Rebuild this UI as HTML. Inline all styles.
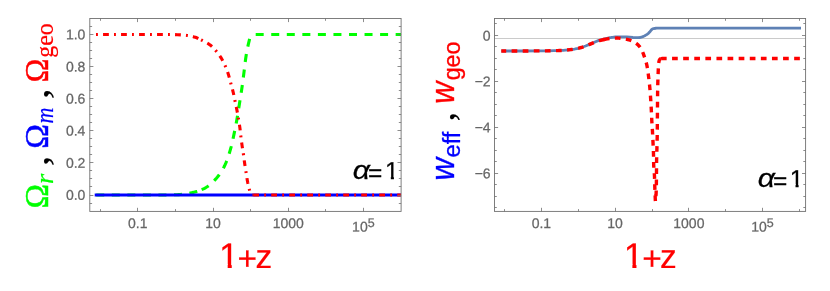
<!DOCTYPE html>
<html><head><meta charset="utf-8"><title>plots</title>
<style>html,body{margin:0;padding:0;background:#fff;}svg{display:block;}</style></head>
<body><div id="wrap" style="width:830px;height:291px;will-change:transform"><svg width="830" height="291" viewBox="0 0 830 291">
<rect width="830" height="291" fill="#ffffff"/>
<clipPath id="cl"><rect x="89.8" y="18.5" width="311.3" height="192.9"/></clipPath>
<g clip-path="url(#cl)" fill="none">
<path d="M96,195L165.66,195L170.17,194.94L175.73,194.77L177.05,194.70L178.64,194.58L180.22,194.44L182.07,194.25L186.01,193.77L187.32,193.57L188.89,193.31L190.20,193.06L191.76,192.73L193.30,192.37L194.58,192.05L195.86,191.69L197.15,191.30L198.43,190.88L199.70,190.42" stroke="#00ff00" stroke-width="3.1" stroke-dasharray="8 7.55" stroke-dashoffset="-0.25"/>
<path d="M199.70,190.42L200.95,189.93L202.18,189.42L203.37,188.87L204.53,188.30L205.43,187.82L206.31,187.30L207.18,186.74L208.27,185.99L209.33,185.18L210.37,184.32L211.40,183.43L212.40,182.50L213.37,181.55L214.50,180.38L215.40,179.40L216.44,178.22L217.44,177.03L218.25,176.01L219.04,174.95L219.97,173.65L220.72,172.54L221.60,171.18L222.43,169.80L223.10,168.63L223.87,167.22L224.47,166.04L225.03,164.86L225.68,163.43L226.28,161.98L226.87,160.51L227.42,159.01L227.95,157.51L228.46,155.99L229.03,154.21L230.16,150.38L231.07,147.07L231.95,143.47L233.07,138.55L234.73,130.78L235.82,125.32L236.84,119.86L237.33,116.99L237.89,113.59L239.37,104.17L240.93,94.49L241.58,90.30L242.40,84.53L243.36,77.18L244.13,71.13L245.12,62.71L245.57,59.30L245.96,56.68L246.43,53.81L246.96,50.94L247.52,48.08L248.30,44.45L249.39,39.78L249.66,38.74L249.89,37.98L250.14,37.24L250.33,36.76L250.66,36.01L250.94,35.49L251.10,35.26L251.26,35.06L251.44,34.90L251.63,34.79L251.85,34.71L252.37,34.57L252.66,34.52L253.19,34.50" stroke="#00ff00" stroke-width="3.1" stroke-dasharray="8 7.55" stroke-dashoffset="13.49"/>
<path d="M253.19,34.50L401,34.50" stroke="#00ff00" stroke-width="3.1" stroke-dasharray="8 7.55" stroke-dashoffset="-2.5"/>
<path d="M94.7,195H401.3" stroke="#0000ff" stroke-width="3.2"/>
<path d="M96,34.50L170.18,34.50L173.36,34.54L177.34,34.68L180.78,34.84L182.10,34.93L183.42,35.05L185.01,35.22L186.85,35.44L188.42,35.66L189.72,35.89L191.02,36.16L192.58,36.53L193.86,36.88L195.38,37.33L196.12,37.57L197.11,37.95L198.08,38.36L199.05,38.81" stroke="#ff0000" stroke-width="3.1" stroke-dasharray="1.9 5.15 5.8 5.15"/>
<path d="M199.05,38.81L203.80,41.21L205.70,42.21L206.64,42.73L207.55,43.27L208.45,43.82L209.32,44.41L210.16,45.02L210.77,45.50L211.57,46.19L212.35,46.91L213.11,47.66L214.03,48.63L214.93,49.63L215.80,50.63L216.82,51.84L217.64,52.88L218.60,54.15L219.38,55.24L220.27,56.56L220.99,57.68L221.66,58.81L222.44,60.19L223.18,61.59L223.89,63.02L224.57,64.47L225.21,65.93L225.83,67.39L226.51,69.11L227.17,70.85L227.78,72.60L228.61,75.12L229.34,77.66L230.95,83.82L232.55,89.70L233.20,92.27L233.89,95.37L235.05,101.08L236.41,107.56L236.93,110.16L237.61,113.81L238.21,117.20L238.91,121.38L239.34,124L239.69,126.36L240.10,129.51L240.87,136.62L241.40,140.83L242.22,146.60L243.18,152.61L243.50,154.71L244.47,162.07L244.81,164.43L245.25,167.31L246.17,173.06L247.02,178.56L247.38,180.65L247.78,182.73L248.34,185.32L248.95,187.90L250.02,192.05L250.17,192.57L250.35,193.06L250.55,193.51L250.83,193.96L251,194.18L251.20,194.40L251.41,194.58L251.62,194.72L251.84,194.81L252.35,194.93L252.62,194.98" stroke="#ff0000" stroke-width="3.1" stroke-dasharray="1.9 5.15 5.8 5.15" stroke-dashoffset="-2.25"/>
<path d="M252.62,194.98L253.16,195L401,195" stroke="#ff0000" stroke-width="3.1" stroke-dasharray="1.9 5.15 5.8 5.15" stroke-dashoffset="6.45"/>
</g>
<rect x="89.8" y="18.5" width="311.30" height="192.90" fill="none" stroke="#707070" stroke-width="0.9"/>
<path d="M100.50,211.4v-2.3M100.50,18.5v2.3M137.50,211.4v-3.6M137.50,18.5v3.6M175.50,211.4v-2.3M175.50,18.5v2.3M213.50,211.4v-3.6M213.50,18.5v3.6M250.50,211.4v-2.3M250.50,18.5v2.3M288.50,211.4v-3.6M288.50,18.5v3.6M325.50,211.4v-2.3M325.50,18.5v2.3M363.50,211.4v-3.6M363.50,18.5v3.6" stroke="#707070" stroke-width="0.8" fill="none"/>
<path d="M89.8,195.50h3.6M401.1,195.50h-3.6M89.8,162.50h3.6M401.1,162.50h-3.6M89.8,130.50h3.6M401.1,130.50h-3.6M89.8,98.50h3.6M401.1,98.50h-3.6M89.8,66.50h3.6M401.1,66.50h-3.6M89.8,34.50h3.6M401.1,34.50h-3.6M89.8,203.50h2.3M401.1,203.50h-2.3M89.8,186.50h2.3M401.1,186.50h-2.3M89.8,178.50h2.3M401.1,178.50h-2.3M89.8,170.50h2.3M401.1,170.50h-2.3M89.8,154.50h2.3M401.1,154.50h-2.3M89.8,146.50h2.3M401.1,146.50h-2.3M89.8,138.50h2.3M401.1,138.50h-2.3M89.8,122.50h2.3M401.1,122.50h-2.3M89.8,114.50h2.3M401.1,114.50h-2.3M89.8,106.50h2.3M401.1,106.50h-2.3M89.8,90.50h2.3M401.1,90.50h-2.3M89.8,82.50h2.3M401.1,82.50h-2.3M89.8,74.50h2.3M401.1,74.50h-2.3M89.8,58.50h2.3M401.1,58.50h-2.3M89.8,50.50h2.3M401.1,50.50h-2.3M89.8,42.50h2.3M401.1,42.50h-2.3M89.8,26.50h2.3M401.1,26.50h-2.3" stroke="#707070" stroke-width="0.8" fill="none"/>
<g font-family="Liberation Sans, sans-serif" font-size="14" fill="#666666" stroke="#666666" stroke-width="0.25">
<text x="85.40" y="199.80" text-anchor="end" transform="rotate(0.03 85.40 199.80)">0.0</text>
<text x="85.40" y="167.70" text-anchor="end" transform="rotate(0.03 85.40 167.70)">0.2</text>
<text x="85.40" y="135.60" text-anchor="end" transform="rotate(0.03 85.40 135.60)">0.4</text>
<text x="85.40" y="103.50" text-anchor="end" transform="rotate(0.03 85.40 103.50)">0.6</text>
<text x="85.40" y="71.40" text-anchor="end" transform="rotate(0.03 85.40 71.40)">0.8</text>
<text x="85.40" y="39.30" text-anchor="end" transform="rotate(0.03 85.40 39.30)">1.0</text>
<text x="137.80" y="228.10" text-anchor="middle" transform="rotate(0.03 137.80 228.10)">0.1</text>
<text x="213.06" y="228.10" text-anchor="middle" transform="rotate(0.03 213.06 228.10)">10</text>
<text x="288.32" y="228.10" text-anchor="middle" transform="rotate(0.03 288.32 228.10)">1000</text>
<text x="363.38" y="231.60" text-anchor="middle" transform="rotate(0.03 363.38 231.60)">10<tspan dy="-4.6" font-size="12.5">5</tspan></text>
</g>
<g font-family="Liberation Sans, sans-serif" fill="#ff0000" stroke="#ff0000" stroke-width="0.2">
<clipPath id="c1_1"><path d="M217.10,232.40H231.76V269.90H227.68V264.15H217.10Z"/></clipPath>
<g clip-path="url(#c1_1)"><text x="219.10" y="267.90" font-size="35.5" transform="rotate(0.03 219.10 267.90)">1</text></g>
<text x="237.5" y="269.8" font-size="33.5" transform="rotate(0.03 237.5 269.8)">+</text><text x="255.4" y="267.9" font-size="33.5" transform="rotate(0.03 255.4 267.9)">z</text></g>
<g font-family="Liberation Sans, sans-serif" fill="#000" stroke="#000" stroke-width="0.25"><text transform="translate(352.7,178.9) scale(1.16,1)" font-size="26" font-style="italic">α</text><text x="368.0" y="180.8" font-size="24.5">=</text>
<clipPath id="c1_2"><path d="M383.00,154.40H393.93V180.90H390.81V175.97H383.00Z"/></clipPath>
<g clip-path="url(#c1_2)"><text x="385.00" y="178.90" font-size="24.5" transform="rotate(0.03 385.00 178.90)">1</text></g>
</g>
<g transform="translate(48.1,206.8) rotate(-90)">
<text transform="translate(0.00,0) scale(0.9702,1)" x="-1.760" y="0" font-family="Liberation Serif, serif" font-size="34" fill="#00ff00" stroke="#00ff00" stroke-width="0.45">Ω</text>
<text transform="translate(23.80,5.1) scale(1.0552,1)" x="-1.005" y="0" font-family="Liberation Serif, serif" font-size="24.8" fill="#00ff00" stroke="#00ff00" stroke-width="0.2" font-style="italic">r</text>
<text transform="translate(42.30,0) scale(1.1102,1)" x="-1.428" y="0" font-family="Liberation Serif, serif" font-size="37.5" fill="#000" stroke="#000" stroke-width="0.15">,</text>
<text transform="translate(59.70,0) scale(0.9748,1)" x="-1.760" y="0" font-family="Liberation Serif, serif" font-size="34" fill="#0000ff" stroke="#0000ff" stroke-width="0.45">Ω</text>
<text transform="translate(84.20,5.1) scale(0.8890,1)" x="-0.896" y="0" font-family="Liberation Serif, serif" font-size="24.8" fill="#0000ff" stroke="#0000ff" stroke-width="0.2" font-style="italic">m</text>
<text transform="translate(109.40,0) scale(1.1281,1)" x="-1.428" y="0" font-family="Liberation Serif, serif" font-size="37.5" fill="#000" stroke="#000" stroke-width="0.15">,</text>
<text transform="translate(126.00,0) scale(0.9518,1)" x="-1.760" y="0" font-family="Liberation Serif, serif" font-size="34" fill="#ff0000" stroke="#ff0000" stroke-width="0.45">Ω</text>
<text transform="translate(150.00,5.1) scale(0.9646,1)" x="-1.066" y="0" font-family="Liberation Serif, serif" font-size="24.8" fill="#ff0000" stroke="#ff0000" stroke-width="0.2">geo</text>
</g>
<clipPath id="cr"><rect x="494.5" y="18.5" width="311.1" height="192.9"/></clipPath>
<g clip-path="url(#cr)" fill="none">
<path d="M494.5,38.5H805.9" stroke="#c4c4c4" stroke-width="0.9"/>
<path d="M501.30,51L519.63,50.98L540.26,50.90L547.90,50.82L554.01,50.72L559.35,50.55L560.87,50.47L563.16,50.32L565.45,50.13L569.25,49.77L571.53,49.51L573.04,49.30L574.55,49.06L575.30,48.92L576.80,48.61L578.29,48.27L580.51,47.70L581.97,47.26L583.42,46.79L584.14,46.54L585.57,45.99L591.22,43.65L593.33,42.76L596.11,41.48L596.81,41.18L597.52,40.90L598.96,40.42L601.17,39.79L603.39,39.23L604.88,38.88L607.87,38.22L610.10,37.69L610.85,37.53L611.60,37.39L612.35,37.29L613.87,37.14L615.40,37.02L616.16,36.98L619.22,36.92L623.80,36.90L625.33,36.94L626.85,37.02L629.90,37.22L632.95,37.49L636,37.63L637.53,37.64L638.30,37.62L639.82,37.52L640.56,37.41L641.29,37.19L643.44,36.34L644.14,36.03L644.83,35.69L645.49,35.32L646.14,34.92L646.78,34.49L647.40,34.04L648,33.57L648.59,33.08L649.14,32.56L649.65,31.99L650.60,30.77L651.10,30.18L651.63,29.66L652.23,29.16L652.87,28.72L653.58,28.52L655.87,28.26L656.63,28.21L657.39,28.20L801,28.20" stroke="#5e81b5" stroke-width="2.8"/>
<path d="M501.30,51L519.51,50.98L539.91,50.90L545.74,50.85L551.93,50.76L557.39,50.62L559.57,50.54L561.39,50.44L563.21,50.32L565.02,50.17L570.10,49.67L571.55,49.50L572.99,49.31L574.43,49.08L575.50,48.88L576.93,48.58L578.71,48.17L579.76,47.90L581.17,47.51L583.25,46.85L584.96,46.23L589.01,44.57L595.74,41.75L597.10,41.23L598.13,40.90L599.53,40.53L604.16,39.47" stroke="#ff0000" stroke-width="3.4" stroke-dasharray="5.7 5.4" stroke-dashoffset="0.8"/>
<path d="M604.16,39.47L605.94,39.08L607.37,38.82L609.89,38.44L611.34,38.27L612.79,38.18L615.34,38.08L617.16,38.05L618.25,38.09L618.98,38.14L620.07,38.26L623.32,38.68L625.13,38.99L626.92,39.36L628.67,39.79L629.37,39.99L630.06,40.22L631.43,40.76L632.77,41.37L634.05,42.03L634.99,42.58L635.61,42.99L636.21,43.41L637.09,44.10L637.64,44.57L638.16,45.06L638.90,45.84L639.62,46.68L640.07,47.26L640.50,47.87L641.10,48.79L641.62,49.73L642.10,50.70L642.54,51.70L643.07,53.07L643.57,54.45L644.65,57.55L645.34,59.63L645.77,61.03L646.17,62.44L646.54,63.85L646.79,64.91L647.08,66.32L647.34,67.75L647.64,69.54L647.90,71.35L648.25,73.88L648.83,78.59L649.46,84.02L649.71,86.55L649.97,89.45L650.45,95.63L650.79,100.72L651.12,106.17L651.36,110.90L651.80,120.72L651.97,123.63L652.45,130.90L652.82,138.18L653.32,149.09L653.45,152.37L653.54,155.64L653.66,163.29L653.73,165.84L653.86,168.02L654.32,173.47L654.48,176.01L654.60,179.29L654.78,186.21L654.94,190.94L655.30,199.67L655.37,200.77L655.44,201.29L655.46,201.28L655.49,201.17L655.54,200.65L655.79,197.12L656.08,194.22L656.22,190.95L656.33,186.58L656.44,179.29L656.54,165.45L656.61,159.62L656.70,155.98L657.12,141.78L657.21,137.41L657.29,130.13L657.57,96.62L657.63,91.52L657.71,87.15L657.83,82.42L657.96,78.05L658.14,73.32L658.31,68.93L658.45,66.36L658.65,63.83L658.77,62.76L658.87,62.03L659.05,61.21L659.29,60.37L659.43,59.99L659.59,59.64L659.76,59.33L659.94,59.10L660.13,58.94L660.34,58.85L660.97,58.69" stroke="#ff0000" stroke-width="3.4" stroke-dasharray="5.7 5.4" stroke-dashoffset="0.3"/>
<path d="M603.4,39.64L604.6,39.37" stroke="#ff0000" stroke-width="3.4"/>
<path d="M660.97,58.69L661.35,58.63L662.16,58.54L662.96,58.50L801,58.50" stroke="#ff0000" stroke-width="3.4" stroke-dasharray="5.7 5.4"/>
</g>
<rect x="494.5" y="18.5" width="311.10" height="192.90" fill="none" stroke="#707070" stroke-width="0.9"/>
<path d="M504.50,211.4v-2.3M504.50,18.5v2.3M541.50,211.4v-3.6M541.50,18.5v3.6M578.50,211.4v-2.3M578.50,18.5v2.3M615.50,211.4v-3.6M615.50,18.5v3.6M652.50,211.4v-2.3M652.50,18.5v2.3M688.50,211.4v-3.6M688.50,18.5v3.6M725.50,211.4v-2.3M725.50,18.5v2.3M762.50,211.4v-3.6M762.50,18.5v3.6M799.50,211.4v-2.3M799.50,18.5v2.3" stroke="#707070" stroke-width="0.8" fill="none"/>
<path d="M494.5,35.50h3.6M805.6,35.50h-3.6M494.5,81.50h3.6M805.6,81.50h-3.6M494.5,127.50h3.6M805.6,127.50h-3.6M494.5,173.50h3.6M805.6,173.50h-3.6M494.5,207.50h2.3M805.6,207.50h-2.3M494.5,196.50h2.3M805.6,196.50h-2.3M494.5,184.50h2.3M805.6,184.50h-2.3M494.5,161.50h2.3M805.6,161.50h-2.3M494.5,150.50h2.3M805.6,150.50h-2.3M494.5,138.50h2.3M805.6,138.50h-2.3M494.5,115.50h2.3M805.6,115.50h-2.3M494.5,104.50h2.3M805.6,104.50h-2.3M494.5,92.50h2.3M805.6,92.50h-2.3M494.5,69.50h2.3M805.6,69.50h-2.3M494.5,58.50h2.3M805.6,58.50h-2.3M494.5,46.50h2.3M805.6,46.50h-2.3M494.5,23.50h2.3M805.6,23.50h-2.3" stroke="#707070" stroke-width="0.8" fill="none"/>
<g font-family="Liberation Sans, sans-serif" font-size="14" fill="#666666" stroke="#666666" stroke-width="0.25">
<text x="490.60" y="40.40" text-anchor="end" transform="rotate(0.03 490.60 40.40)">0</text>
<text x="490.60" y="86.34" text-anchor="end" transform="rotate(0.03 490.60 86.34)">−2</text>
<text x="490.60" y="132.28" text-anchor="end" transform="rotate(0.03 490.60 132.28)">−4</text>
<text x="490.60" y="178.22" text-anchor="end" transform="rotate(0.03 490.60 178.22)">−6</text>
<text x="541.38" y="228.10" text-anchor="middle" transform="rotate(0.03 541.38 228.10)">0.1</text>
<text x="615.12" y="228.10" text-anchor="middle" transform="rotate(0.03 615.12 228.10)">10</text>
<text x="688.88" y="228.10" text-anchor="middle" transform="rotate(0.03 688.88 228.10)">1000</text>
<text x="762.42" y="231.60" text-anchor="middle" transform="rotate(0.03 762.42 231.60)">10<tspan dy="-4.6" font-size="12.5">5</tspan></text>
</g>
<g font-family="Liberation Sans, sans-serif" fill="#ff0000" stroke="#ff0000" stroke-width="0.2">
<clipPath id="c1_3"><path d="M621.80,232.40H636.46V269.90H632.38V264.15H621.80Z"/></clipPath>
<g clip-path="url(#c1_3)"><text x="623.80" y="267.90" font-size="35.5" transform="rotate(0.03 623.80 267.90)">1</text></g>
<text x="642.2" y="269.8" font-size="33.5" transform="rotate(0.03 642.2 269.8)">+</text><text x="660.1" y="267.9" font-size="33.5" transform="rotate(0.03 660.1 267.9)">z</text></g>
<g font-family="Liberation Sans, sans-serif" fill="#000" stroke="#000" stroke-width="0.25"><text transform="translate(757.7,187.0) scale(1.16,1)" font-size="26" font-style="italic">α</text><text x="773.0" y="188.9" font-size="24.5">=</text>
<clipPath id="c1_4"><path d="M787.70,162.50H798.63V189.00H795.51V184.07H787.70Z"/></clipPath>
<g clip-path="url(#c1_4)"><text x="789.70" y="187.00" font-size="24.5" transform="rotate(0.03 789.70 187.00)">1</text></g>
</g>
<g transform="translate(454.1,178.9) rotate(-90)">
<text transform="translate(0.00,0) scale(0.9474,1)" x="-1.644" y="0" font-family="Liberation Sans, sans-serif" font-size="33" fill="#0000ff" stroke="#0000ff" stroke-width="0.35" font-style="italic">w</text>
<text transform="translate(22.40,6.1) scale(0.9643,1)" x="-1.045" y="0" font-family="Liberation Sans, sans-serif" font-size="24.6" fill="#0000ff" stroke="#0000ff" stroke-width="0.3">eff</text>
<text transform="translate(58.90,0) scale(1.0385,1)" x="-1.428" y="0" font-family="Liberation Serif, serif" font-size="37.5" fill="#000" stroke="#000" stroke-width="0.15">,</text>
<text transform="translate(76.60,0) scale(0.9307,1)" x="-1.644" y="0" font-family="Liberation Sans, sans-serif" font-size="33" fill="#ff0000" stroke="#ff0000" stroke-width="0.35" font-style="italic">w</text>
<text transform="translate(99.50,6.1) scale(0.9467,1)" x="-1.033" y="0" font-family="Liberation Sans, sans-serif" font-size="24.6" fill="#ff0000" stroke="#ff0000" stroke-width="0.3">geo</text>
</g>
</svg></div></body></html>
